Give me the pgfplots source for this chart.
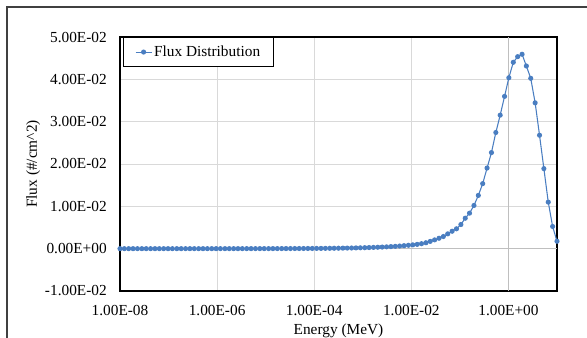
\documentclass[border=0pt]{standalone}
\usepackage{pgfplots}
\usepackage{pgfplotstable}
\usepackage{fontspec}
\setmainfont{Liberation Serif}
\pgfplotsset{compat=1.18}
\definecolor{fluxblue}{RGB}{74,126,193}
\definecolor{gridgray}{RGB}{217,217,217}
\definecolor{axgray}{RGB}{191,191,191}
\pgfplotstableread{
E flux
1.00e-8 2.18e-7
1.23e-8 2.47e-7
1.51e-8 2.80e-7
1.86e-8 3.17e-7
2.29e-8 3.59e-7
2.82e-8 4.06e-7
3.47e-8 4.60e-7
4.27e-8 5.21e-7
5.25e-8 5.90e-7
6.46e-8 6.68e-7
7.94e-8 7.57e-7
9.77e-8 8.57e-7
1.20e-7 9.70e-7
1.48e-7 1.10e-6
1.82e-7 1.24e-6
2.24e-7 1.41e-6
2.75e-7 1.60e-6
3.39e-7 1.81e-6
4.17e-7 2.05e-6
5.13e-7 2.32e-6
6.31e-7 2.62e-6
7.76e-7 2.97e-6
9.55e-7 3.37e-6
1.17e-6 3.81e-6
1.45e-6 4.32e-6
1.78e-6 4.89e-6
2.19e-6 5.53e-6
2.69e-6 6.27e-6
3.31e-6 7.10e-6
4.07e-6 8.04e-6
5.01e-6 9.10e-6
6.17e-6 1.03e-5
7.59e-6 1.17e-5
9.33e-6 1.32e-5
1.15e-5 1.50e-5
1.41e-5 1.69e-5
1.74e-5 1.92e-5
2.14e-5 2.17e-5
2.63e-5 2.46e-5
3.24e-5 2.79e-5
3.98e-5 3.16e-5
4.90e-5 3.57e-5
6.03e-5 4.05e-5
7.41e-5 4.58e-5
9.12e-5 5.19e-5
1.12e-4 5.87e-5
1.38e-4 6.65e-5
1.70e-4 7.53e-5
2.09e-4 8.53e-5
2.57e-4 9.66e-5
3.16e-4 1.09e-4
3.89e-4 1.24e-4
4.79e-4 1.40e-4
5.89e-4 1.59e-4
7.24e-4 1.80e-4
8.91e-4 2.04e-4
1.10e-3 2.31e-4
1.35e-3 2.61e-4
1.66e-3 2.96e-4
2.04e-3 3.35e-4
2.51e-3 3.79e-4
3.09e-3 4.30e-4
3.80e-3 4.86e-4
4.68e-3 5.51e-4
5.75e-3 6.24e-4
7.08e-3 7.06e-4
8.71e-3 8.00e-4
1.07e-2 9.00e-4
1.32e-2 1.02e-3
1.62e-2 1.18e-3
2.00e-2 1.40e-3
2.45e-2 1.72e-3
3.02e-2 2.08e-3
3.72e-2 2.46e-3
4.57e-2 2.87e-3
5.62e-2 3.50e-3
6.92e-2 4.12e-3
8.51e-2 4.69e-3
1.05e-1 5.71e-3
1.29e-1 7.20e-3
1.58e-1 8.39e-3
1.95e-1 1.021e-2
2.40e-1 1.258e-2
2.95e-1 1.536e-2
3.63e-1 1.905e-2
4.47e-1 2.270e-2
5.50e-1 2.744e-2
6.76e-1 3.154e-2
8.32e-1 3.597e-2
1.02 4.038e-2
1.26 4.403e-2
1.55 4.536e-2
1.91 4.592e-2
2.34 4.315e-2
2.88 4.024e-2
3.55 3.445e-2
4.37 2.680e-2
5.37 1.891e-2
6.61 1.100e-2
8.13 5.24e-3
10.0 1.75e-3
}\fluxdata
\begin{document}
\begin{tikzpicture}
\path[use as bounding box] (0,0) rectangle (440.25pt,252.75pt);
\clip (0,0) rectangle (440.25pt,252.75pt);
\draw[line width=1.5pt, black!75] (5.0pt,-10pt) -- (5.0pt,247.7pt) -- (460pt,247.7pt);
\begin{axis}[
  at={(90pt,34.5pt)}, anchor=south west,
  scale only axis, width=327.75pt, height=190.5pt,
  xmode=log, xmin=1e-8, xmax=10,
  ymin=-0.01, ymax=0.05,
  scaled y ticks=false, scaled x ticks=false,
  xtick={1e-8,1e-6,1e-4,1e-2,1},
  xticklabels={\mbox{1.00E-08},\mbox{1.00E-06},\mbox{1.00E-04},\mbox{1.00E-02},\mbox{1.00E+00}},
  ytick={-0.01,0,0.01,0.02,0.03,0.04,0.05},
  yticklabels={\mbox{-1.00E-02},\mbox{0.00E+00},\mbox{1.00E-02},\mbox{2.00E-02},\mbox{3.00E-02},\mbox{4.00E-02},\mbox{5.00E-02}},
  /pgf/number format/assume math mode=true,
  minor tick num=0, xminorticks=false,
  major tick length=0pt,
  grid=major,
  major grid style={color=gridgray, line width=0.75pt},
  extra x ticks={1}, extra x tick labels={},
  extra x tick style={grid=major, major grid style={color=axgray, line width=0.75pt}},
  extra y ticks={0}, extra y tick labels={},
  extra y tick style={grid=major, major grid style={color=axgray, line width=0.75pt}},
  axis line style={black, line width=1.1pt},
  xticklabel style={font=\fontsize{11.5}{13}\selectfont, inner sep=0pt, anchor=north, yshift=-10.5pt},
  yticklabel style={font=\fontsize{11.5}{13}\selectfont, inner sep=0pt, anchor=east, xshift=-9.75pt},
  xlabel={Energy (MeV)},
  ylabel={Flux (\#/cm\textasciicircum 2)},
  xlabel style={font=\fontsize{11.5}{13}\selectfont, at={(axis description cs:0.5,-0.1299)}, anchor=north, inner sep=0pt},
  ylabel style={font=\fontsize{11.5}{13}\selectfont, at={(axis description cs:-0.1824,0.5)}, anchor=south, inner sep=0pt},
  legend style={at={(axis description cs:0.00686,1)}, anchor=north west, draw=black, line width=1.1pt,
    font=\fontsize{11.5}{13}\selectfont, inner xsep=8.5pt, inner ysep=4.5pt,
    nodes={inner sep=1.5pt}},
  legend image code/.code={\draw[mark repeat=2,mark phase=2] plot coordinates {(0pt,0pt)(6pt,0pt)(12pt,0pt)};},
]
\addplot[color=fluxblue, line width=0.8pt, mark=*, mark size=1.5pt, mark options={fill=fluxblue, draw=fluxblue}] table[x=E, y=flux] {\fluxdata};
\addlegendentry{Flux Distribution}
\end{axis}
\end{tikzpicture}
\end{document}
